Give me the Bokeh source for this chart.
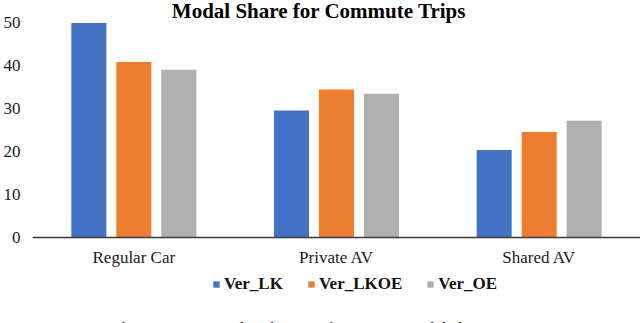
from bokeh.plotting import figure
from bokeh.models import FactorRange, Range1d, FixedTicker, Legend, LegendItem, Label, ColumnDataSource
from bokeh.transform import dodge
from bokeh.embed import file_html
from bokeh.resources import INLINE

categories = ["Regular Car", "Private AV", "Shared AV"]
series_names = ["Ver_LK", "Ver_LKOE", "Ver_OE"]
ver_lk = [50.0, 29.6, 20.4]
ver_lkoe = [40.9, 34.5, 24.6]
ver_oe = [39.1, 33.5, 27.2]
y_ticks = [0, 10, 20, 30, 40, 50]
title_text = "Modal Share for Commute Trips"
caption_bold = "Fig. 1"
caption_text = "Frequency distribution of commute modal choice"
colors = ["#4472C4", "#ED7D31", "#B0B0B0"]

FONT = "Liberation Serif"

source = ColumnDataSource(data=dict(cat=categories, Ver_LK=ver_lk, Ver_LKOE=ver_lkoe, Ver_OE=ver_oe))

p = figure(width=640, height=323, x_range=FactorRange(*categories), y_range=Range1d(-20.05, 55.24),
           output_backend="svg", toolbar_location=None,
           min_border_left=0, min_border_right=0, min_border_top=0, min_border_bottom=0)
p.outline_line_color = None
p.xgrid.grid_line_color = None
p.ygrid.grid_line_color = None
p.background_fill_color = "white"
p.border_fill_color = "white"

offsets = [-0.222, 0.0, 0.222]
renderers = []
for name, off, col in zip(series_names, offsets, colors):
    r = p.vbar(x=dodge("cat", off, range=p.x_range), top=name, width=0.173, source=source,
               fill_color=col, line_color=None)
    renderers.append(r)

# axes
p.yaxis.ticker = FixedTicker(ticks=y_ticks)
p.yaxis.axis_line_color = None
p.yaxis.major_tick_line_color = None
p.yaxis.minor_tick_line_color = None
p.yaxis.major_tick_out = 0
p.yaxis.major_tick_in = 0
p.yaxis.major_label_text_font = FONT
p.yaxis.major_label_text_font_size = "17px"
p.yaxis.major_label_text_color = "#1a1a1a"
p.yaxis.major_label_standoff = 12

p.xaxis.fixed_location = 0
p.xaxis.axis_line_color = "#3a3a3a"
p.xaxis.axis_line_width = 1.3
p.xaxis.major_tick_line_color = None
p.xaxis.minor_tick_line_color = None
p.xaxis.major_tick_out = 0
p.xaxis.major_tick_in = 0
p.xaxis.major_label_text_font = FONT
p.xaxis.major_label_text_font_size = "17px"
p.xaxis.major_label_text_color = "#1a1a1a"
p.xaxis.major_label_standoff = 11

legend = Legend(items=[LegendItem(label=n, renderers=[r]) for n, r in zip(series_names, renderers)],
                orientation="horizontal", location=(180, 29))
legend.border_line_color = None
legend.background_fill_alpha = 0
legend.padding = 0
legend.margin = 0
legend.spacing = 24
legend.label_standoff = 4
legend.glyph_width = 8
legend.glyph_height = 8
legend.label_height = 18
legend.label_text_font = FONT
legend.label_text_font_size = "17px"
legend.label_text_font_style = "bold"
legend.label_text_color = "#111111"
p.add_layout(legend)

title = Label(x=286.5, y=52.8, x_units="screen", y_units="data", text=title_text,
              text_font=FONT, text_font_size="21px", text_font_style="bold",
              text_align="center", text_baseline="middle", text_color="#000000")
p.add_layout(title)

cap1 = Label(x=78, y=-19.1, x_units="screen", y_units="data", text=caption_bold,
             text_font=FONT, text_font_size="17px", text_font_style="bold",
             text_align="left", text_baseline="top", text_color="#000000")
cap2 = Label(x=127, y=-19.1, x_units="screen", y_units="data", text=caption_text,
             text_font=FONT, text_font_size="17px",
             text_align="left", text_baseline="top", text_color="#000000")
p.add_layout(cap1)
p.add_layout(cap2)

open("out.html", "w").write(file_html(p, INLINE))
